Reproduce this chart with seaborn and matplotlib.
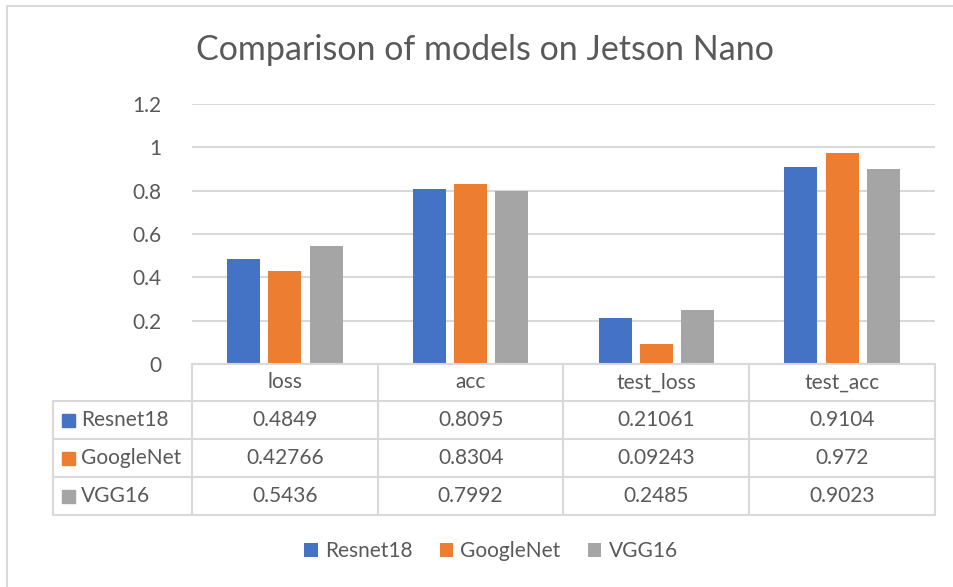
import numpy as np
import pandas as pd
import seaborn as sns
import matplotlib
matplotlib.use("Agg")
import matplotlib.pyplot as plt
from matplotlib.lines import Line2D
from matplotlib.patches import Rectangle

# data
metrics = ['loss', 'acc', 'test_loss', 'test_acc']
models = ['Resnet18', 'GoogleNet', 'VGG16']
resnet18 = [0.4849, 0.8095, 0.21061, 0.9104]
googlenet = [0.42766, 0.8304, 0.09243, 0.972]
vgg16 = [0.5436, 0.7992, 0.2485, 0.9023]
colors = ['#4472C4', '#ED7D31', '#A5A5A5']

df = pd.DataFrame({
    'metric': metrics * 3,
    'model': [m for m in models for _ in metrics],
    'value': resnet18 + googlenet + vgg16,
})

sns.set_style("white")
plt.rcParams['font.family'] = ['Lato', 'DejaVu Sans']
txt = '#595959'
grid = '#D9D9D9'
fs = 15

W, H = 954, 587
fig = plt.figure(figsize=(W / 100, H / 100), dpi=100)

def px(x):
    return x / W

def py(y):
    return 1 - y / H

# plot area in pixels
x0, x1, ytop, ybot = 192, 935, 104, 364
ax = fig.add_axes([px(x0), py(ybot), px(x1) - px(x0), py(ytop) - py(ybot)])

sns.barplot(data=df, x='metric', y='value', hue='model', palette=colors,
            saturation=1, width=0.667, gap=0.2, linewidth=0, ax=ax, zorder=3)

ax.set_xlim(-0.5, len(metrics) - 0.5)
ax.set_ylim(0, 1.2)
ax.set_yticks(np.arange(0, 1.21, 0.2))
ax.set_yticklabels(['0', '0.2', '0.4', '0.6', '0.8', '1', '1.2'])
ax.tick_params(axis='y', length=0, pad=22, labelsize=fs, labelcolor=txt)
ax.set_xticks([])
ax.set_xlabel('')
ax.set_ylabel('')
ax.yaxis.grid(True, color=grid, linewidth=1.5, zorder=0)
for s in ax.spines.values():
    s.set_visible(False)

# legend at the bottom
handles, labels = ax.get_legend_handles_labels()
ax.legend(handles, labels, loc='center', bbox_to_anchor=(px(491), py(551)),
          bbox_transform=fig.transFigure, ncol=3, frameon=False, fontsize=fs,
          labelcolor=txt, handlelength=0.65, handleheight=0.65,
          handletextpad=0.35, columnspacing=1.3)

# data table under the plot
def hline(y, xa, xb):
    fig.add_artist(Line2D([px(xa), px(xb)], [py(y), py(y)], color=grid, lw=1.5,
                          transform=fig.transFigure))

def vline(x, ya, yb):
    fig.add_artist(Line2D([px(x), px(x)], [py(ya), py(yb)], color=grid, lw=1.5,
                          transform=fig.transFigure))

tab_left = 53
rows_y = [364, 401, 439, 477, 515]
colw = (x1 - x0) / len(metrics)
hline(rows_y[0], x0, x1)
for y in rows_y[1:]:
    hline(y, tab_left, x1)
for i in range(len(metrics) + 1):
    vline(x0 + i * colw, rows_y[0], rows_y[-1])
vline(tab_left, rows_y[1], rows_y[-1])

for j, m in enumerate(metrics):
    fig.text(px(x0 + (j + 0.5) * colw), py((rows_y[0] + rows_y[1]) / 2), m,
             ha='center', va='center', fontsize=fs, color=txt)

for i, (name, vals) in enumerate(zip(models, [resnet18, googlenet, vgg16])):
    yc = (rows_y[i + 1] + rows_y[i + 2]) / 2
    fig.add_artist(Rectangle((px(62), py(yc + 6.5)), px(13), py(0) - py(13),
                             color=colors[i], transform=fig.transFigure))
    fig.text(px(81), py(yc), name, ha='left', va='center', fontsize=fs, color=txt)
    for j, v in enumerate(vals):
        fig.text(px(x0 + (j + 0.5) * colw), py(yc), f"{v:g}",
                 ha='center', va='center', fontsize=fs, color=txt)

fig.text(px(485), py(50), 'Comparison of models on Jetson Nano',
         ha='center', va='center', fontsize=24.5, color=txt)

# chart area border (left and top edges visible)
fig.add_artist(Line2D([px(7.5), px(7.5), px(W)], [py(H), py(5.5), py(5.5)],
                      color=grid, lw=1.5, transform=fig.transFigure))

fig.savefig('out.png', dpi=100)
